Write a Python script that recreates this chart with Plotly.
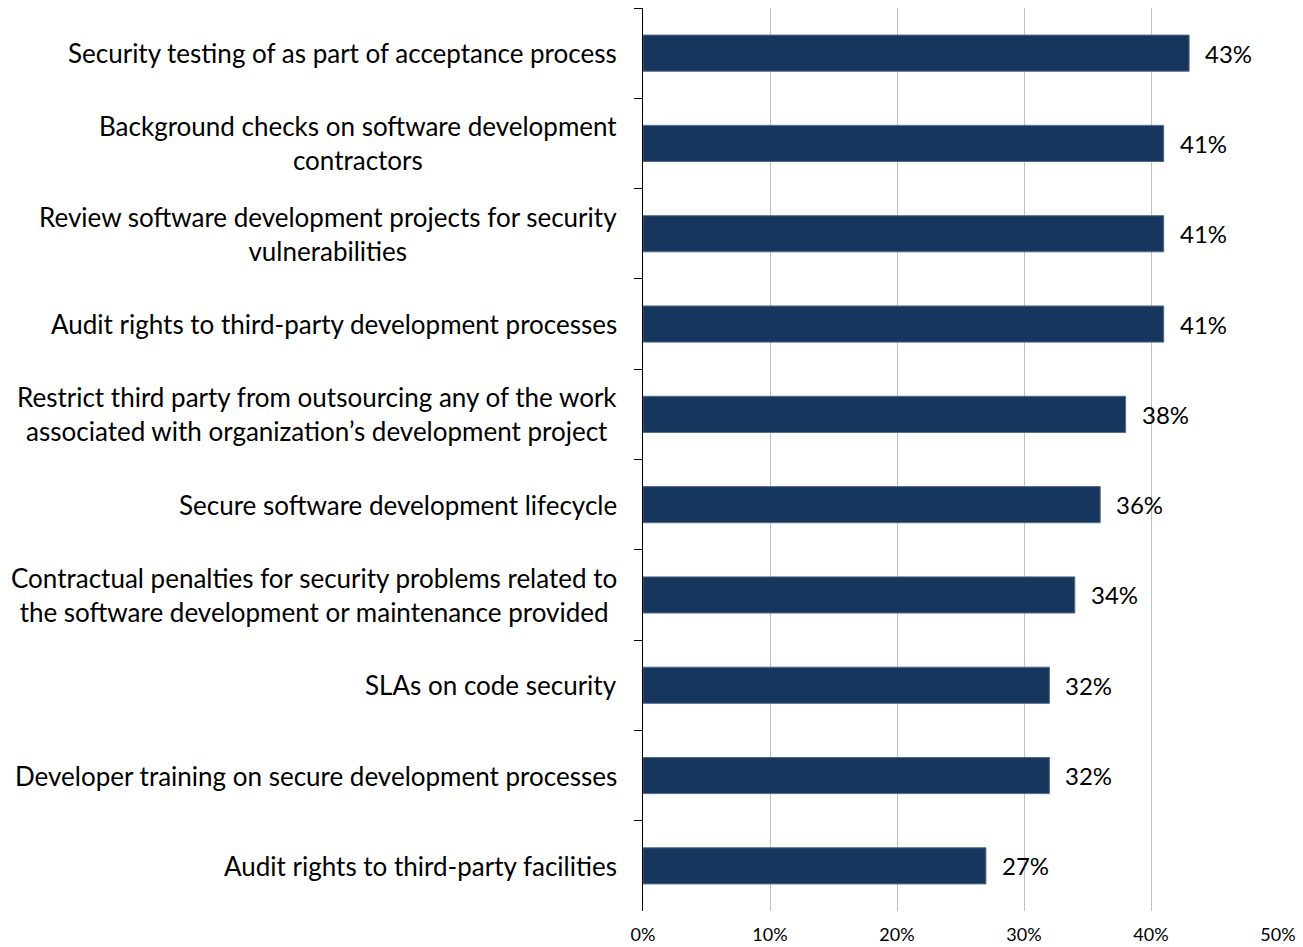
import plotly.graph_objects as go

categories = [
    "Security testing of as part of acceptance process",
    "Background checks on software development<br>contractors",
    "Review software development projects for security<br>vulnerabilities",
    "Audit rights to third-party development processes",
    "Restrict third party from outsourcing any of the work<br>associated with organization\u2019s development project",
    "Secure software development lifecycle",
    "Contractual penalties for security problems related to<br>the software development or maintenance provided",
    "SLAs on code security",
    "Developer training on secure development processes",
    "Audit rights to third-party facilities",
]
values = [43, 41, 41, 41, 38, 36, 34, 32, 32, 27]
tick_vals = [0, 10, 20, 30, 40, 50]
tick_text = ["0%", "10%", "20%", "30%", "40%", "50%"]

FONT = "Lato"

fig = go.Figure(go.Bar(
    y=categories,
    x=values,
    orientation="h",
    marker=dict(color="#17365D", line=dict(color="#4F6A8C", width=1)),
    width=0.4,
    hoverinfo="x+y",
))

annotations = []
# category labels, centered multi-line, right edge left of the axis
for c in categories:
    annotations.append(dict(
        x=0, xref="paper", y=c, yref="y",
        text=c, showarrow=False, xanchor="right", yanchor="middle",
        align="center", xshift=-24,
        font=dict(family=FONT, size=26, color="#000000"),
    ))
# value labels
for c, v in zip(categories, values):
    annotations.append(dict(
        x=v, xref="x", y=c, yref="y",
        text=f"{v}%", showarrow=False, xanchor="left", yanchor="middle",
        xshift=14,
        font=dict(family=FONT, size=24, color="#000000"),
    ))

fig.update_layout(
    width=1303, height=947,
    margin=dict(l=643, r=25, t=8, b=36),
    plot_bgcolor="white", paper_bgcolor="white",
    showlegend=False,
    font=dict(family=FONT, color="#000000"),
    annotations=annotations,
)
fig.update_xaxes(
    range=[0, 50], tickvals=tick_vals, ticktext=tick_text,
    showgrid=True, gridcolor="#BFBFBF", gridwidth=1,
    zeroline=False, showline=False, automargin=False,
    tickfont=dict(family=FONT, size=18, color="#000000"),
    ticklabelstandoff=11,
)
fig.update_yaxes(
    type="category", categoryorder="array", categoryarray=categories,
    autorange="reversed", automargin=False,
    showline=True, linecolor="#000000", linewidth=1,
    ticks="outside", ticklen=8, tickcolor="#000000", tickson="boundaries",
    showgrid=False, showticklabels=False,
)

fig.write_html("out.html")
